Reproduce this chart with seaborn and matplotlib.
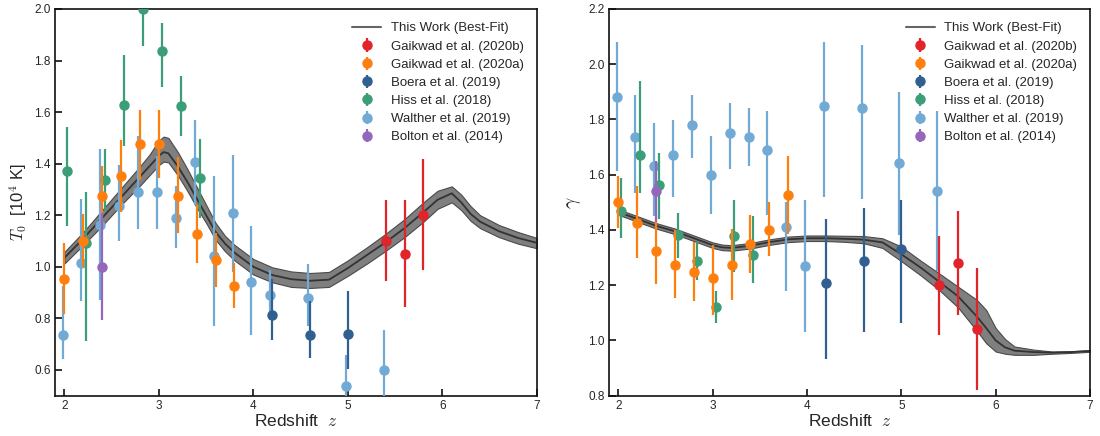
import numpy as np
import pandas as pd
import matplotlib
matplotlib.use("Agg")
import matplotlib.pyplot as plt
import seaborn as sns

# ---------------- data ----------------
# Best-fit T0 curve (10^4 K)
fit_z_T = [2.0, 2.2, 2.4, 2.6, 2.8, 2.9, 3.0, 3.05, 3.1, 3.2, 3.3, 3.4, 3.5, 3.6, 3.7, 3.8,
           4.0, 4.2, 4.4, 4.6, 4.8, 5.0, 5.2, 5.4, 5.6, 5.8, 5.95, 6.1, 6.2, 6.3, 6.4, 6.6, 6.8, 7.0]
fit_T = [1.035, 1.11, 1.19, 1.27, 1.35, 1.39, 1.43, 1.445, 1.44, 1.39, 1.33, 1.265, 1.2, 1.135, 1.09, 1.055,
         1.0, 0.968, 0.952, 0.946, 0.95, 0.995, 1.045, 1.095, 1.15, 1.212, 1.26, 1.285, 1.25, 1.205, 1.175, 1.138, 1.112, 1.093]
fit_T_lo = [1.013, 1.085, 1.16, 1.24, 1.315, 1.355, 1.395, 1.408, 1.405, 1.355, 1.295, 1.23, 1.17, 1.105, 1.06, 1.025,
            0.97, 0.94, 0.922, 0.918, 0.922, 0.965, 1.012, 1.062, 1.115, 1.175, 1.225, 1.25, 1.22, 1.178, 1.15, 1.115, 1.09, 1.072]
fit_T_hi = [1.058, 1.135, 1.22, 1.305, 1.39, 1.435, 1.49, 1.505, 1.50, 1.445, 1.38, 1.31, 1.24, 1.17, 1.12, 1.085,
            1.03, 0.998, 0.982, 0.976, 0.98, 1.025, 1.075, 1.128, 1.185, 1.25, 1.295, 1.312, 1.28, 1.235, 1.2, 1.162, 1.135, 1.112]

# Best-fit gamma curve
fit_z_g = [2.0, 2.2, 2.4, 2.6, 2.8, 3.0, 3.1, 3.2, 3.4, 3.6, 3.8, 4.0, 4.2, 4.4, 4.6, 4.8, 5.0, 5.2,
           5.4, 5.6, 5.8, 5.9, 6.0, 6.1, 6.2, 6.4, 6.6, 6.8, 7.0]
fit_g = [1.465, 1.44, 1.415, 1.395, 1.37, 1.345, 1.337, 1.335, 1.343, 1.356, 1.366, 1.37, 1.37, 1.368, 1.365, 1.355, 1.312, 1.265,
         1.213, 1.16, 1.087, 1.045, 1.0, 0.975, 0.963, 0.958, 0.956, 0.958, 0.962]
fit_g_lo = [1.455, 1.43, 1.405, 1.385, 1.36, 1.335, 1.327, 1.325, 1.333, 1.346, 1.356, 1.36, 1.36, 1.357, 1.352, 1.335, 1.287, 1.237,
            1.183, 1.12, 1.035, 0.99, 0.96, 0.952, 0.948, 0.948, 0.952, 0.955, 0.959]
fit_g_hi = [1.475, 1.45, 1.425, 1.405, 1.38, 1.355, 1.347, 1.345, 1.353, 1.366, 1.376, 1.38, 1.38, 1.379, 1.378, 1.37, 1.34, 1.29,
            1.243, 1.195, 1.147, 1.11, 1.045, 1.005, 0.978, 0.967, 0.96, 0.961, 0.965]

# --- T0 measurements: z, value, lower bound, upper bound ---
g20b_z = [5.4, 5.6, 5.8]
g20b_T = [1.10, 1.05, 1.20]
g20b_T_lo = [0.944, 0.843, 0.986]
g20b_T_hi = [1.261, 1.261, 1.418]

g20a_z = [2.0, 2.2, 2.4, 2.6, 2.8, 3.0, 3.2, 3.4, 3.6, 3.8]
g20a_T = [0.951, 1.102, 1.276, 1.351, 1.477, 1.477, 1.276, 1.128, 1.027, 0.927]
g20a_T_lo = [0.815, 1.00, 1.16, 1.213, 1.338, 1.345, 1.132, 1.015, 0.923, 0.841]
g20a_T_hi = [1.093, 1.203, 1.39, 1.49, 1.61, 1.61, 1.425, 1.241, 1.132, 1.013]

boera_z = [4.2, 4.6, 5.0]
boera_T = [0.814, 0.734, 0.739]
boera_T_lo = [0.718, 0.645, 0.602]
boera_T_hi = [0.951, 0.867, 0.905]

hiss_z = [2.03, 2.23, 2.43, 2.63, 2.83, 3.03, 3.23, 3.43]
hiss_T = [1.373, 1.093, 1.335, 1.629, 2.0, 1.838, 1.625, 1.345]
hiss_T_lo = [1.157, 0.712, 1.215, 1.467, 1.855, 1.698, 1.506, 1.19]
hiss_T_hi = [1.543, 1.289, 1.455, 1.823, 2.15, 1.946, 1.741, 1.496]

walt_z = [1.98, 2.18, 2.38, 2.58, 2.78, 2.98, 3.18, 3.38, 3.58, 3.78, 3.98, 4.18, 4.58, 4.98, 5.38]
walt_T = [0.734, 1.016, 1.164, 1.235, 1.289, 1.289, 1.188, 1.405, 1.041, 1.209, 0.942, 0.891, 0.880, 0.537, 0.601]
walt_T_lo = [0.643, 0.867, 0.873, 1.099, 1.145, 1.147, 1.074, 1.24, 0.772, 0.98, 0.734, 0.795, 0.772, 0.42, 0.45]
walt_T_hi = [0.927, 1.264, 1.455, 1.393, 1.506, 1.43, 1.312, 1.571, 1.354, 1.435, 1.16, 0.987, 1.009, 0.656, 0.753]

bolt_z = [2.4]
bolt_T = [1.0]
bolt_T_lo = [0.793]
bolt_T_hi = [1.21]

# --- gamma measurements ---
g20b_g = [1.20, 1.28, 1.04]
g20b_g_lo = [1.02, 1.092, 0.82]
g20b_g_hi = [1.379, 1.47, 1.262]

g20a_g = [1.501, 1.425, 1.325, 1.274, 1.249, 1.225, 1.274, 1.350, 1.400, 1.525]
g20a_g_lo = [1.407, 1.298, 1.205, 1.153, 1.143, 1.092, 1.147, 1.243, 1.304, 1.385]
g20a_g_hi = [1.596, 1.560, 1.443, 1.40, 1.358, 1.345, 1.405, 1.455, 1.503, 1.666]

boera_g = [1.209, 1.289, 1.330]
boera_g_lo = [0.932, 1.032, 1.062]
boera_g_hi = [1.440, 1.479, 1.509]

hiss_g = [1.470, 1.670, 1.561, 1.380, 1.289, 1.120, 1.379, 1.310]
hiss_g_lo = [1.370, 1.533, 1.44, 1.30, 1.219, 1.062, 1.249, 1.209]
hiss_g_hi = [1.588, 1.940, 1.678, 1.461, 1.358, 1.18, 1.509, 1.451]

walt_g = [1.880, 1.738, 1.630, 1.670, 1.781, 1.600, 1.751, 1.738, 1.690, 1.410, 1.270, 1.850, 1.841, 1.642, 1.542]
walt_g_lo = [1.612, 1.533, 1.45, 1.521, 1.662, 1.457, 1.620, 1.63, 1.455, 1.180, 1.032, 1.521, 1.512, 1.38, 1.25]
walt_g_hi = [2.079, 1.889, 1.789, 1.799, 1.889, 1.741, 1.859, 1.841, 1.832, 1.503, 1.509, 2.079, 2.071, 1.901, 1.829]

bolt_g = [1.54]
bolt_g_lo = [1.43]
bolt_g_hi = [1.65]

labels = ["Gaikwad et al. (2020b)", "Gaikwad et al. (2020a)", "Boera et al. (2019)",
          "Hiss et al. (2018)", "Walther et al. (2019)", "Bolton et al. (2014)"]
colors = ["#e0242a", "#ff7f0e", "#305f90", "#3c9e79", "#72aad6", "#9467bd"]
zorders = [7, 6, 5, 4, 3, 8]

x_ticks = [2, 3, 4, 5, 6, 7]
T_ticks = [0.6, 0.8, 1.0, 1.2, 1.4, 1.6, 1.8, 2.0]
g_ticks = [0.8, 1.0, 1.2, 1.4, 1.6, 1.8, 2.0, 2.2]

# ---------------- style ----------------
sns.set_theme(style="ticks")
plt.rcParams["font.family"] = ["Liberation Sans", "DejaVu Sans"]
plt.rcParams["mathtext.fontset"] = "cm"
plt.rcParams["axes.linewidth"] = 1.2

fig = plt.figure(figsize=(11, 4.36), dpi=100)
axL = fig.add_axes([0.050, 0.0924, 0.438, 0.887])
axR = fig.add_axes([0.5536, 0.0924, 0.4373, 0.887])


def draw_panel(ax, fz, fc, flo, fhi, series, ylim, yticks, ylabel, ylabel_size):
    ax.fill_between(fz, flo, fhi, facecolor="#7f7f7f", edgecolor="#4a4a4a", lw=0.8, zorder=1)
    sns.lineplot(x=fz, y=fc, ax=ax, color="#333333", lw=1.3, zorder=2, legend=False)
    handles = []
    h_line, = ax.plot([], [], color="#666666", lw=1.5, label="This Work (Best-Fit)")
    handles.append(h_line)
    for (z, v, lo, hi), lab, col, zo in zip(series, labels, colors, zorders):
        v = np.array(v); lo = np.array(lo); hi = np.array(hi)
        yerr = np.vstack([v - lo, hi - v])
        h = ax.errorbar(z, v, yerr=yerr, fmt="o", color=col, ms=6.5, elinewidth=1.6,
                        capsize=0, label=lab, zorder=zo)
        handles.append(h)
    ax.set_xlim(1.9, 7.0)
    ax.set_ylim(*ylim)
    ax.set_xticks(x_ticks)
    ax.set_xticklabels([str(t) for t in x_ticks])
    ax.set_yticks(yticks)
    ax.set_yticklabels(["%.1f" % t for t in yticks])
    ax.tick_params(axis="both", which="major", direction="in", length=5, width=1.2,
                   color="#111111", labelsize=8.5, pad=3, top=False, right=False)
    ax.set_xlabel("Redshift  $z$", fontsize=12.5, labelpad=1)
    ax.set_ylabel(ylabel, fontsize=ylabel_size, labelpad=4)
    for s in ax.spines.values():
        s.set_visible(True)
        s.set_linewidth(1.2)
        s.set_color("#111111")
    ax.legend(handles=handles, loc="upper right", frameon=False, fontsize=9.5,
              handlelength=2.2, handletextpad=0.7, labelspacing=0.45, borderaxespad=0.6)


series_T = [(g20b_z, g20b_T, g20b_T_lo, g20b_T_hi),
            (g20a_z, g20a_T, g20a_T_lo, g20a_T_hi),
            (boera_z, boera_T, boera_T_lo, boera_T_hi),
            (hiss_z, hiss_T, hiss_T_lo, hiss_T_hi),
            (walt_z, walt_T, walt_T_lo, walt_T_hi),
            (bolt_z, bolt_T, bolt_T_lo, bolt_T_hi)]
series_g = [(g20b_z, g20b_g, g20b_g_lo, g20b_g_hi),
            (g20a_z, g20a_g, g20a_g_lo, g20a_g_hi),
            (boera_z, boera_g, boera_g_lo, boera_g_hi),
            (hiss_z, hiss_g, hiss_g_lo, hiss_g_hi),
            (walt_z, walt_g, walt_g_lo, walt_g_hi),
            (bolt_z, bolt_g, bolt_g_lo, bolt_g_hi)]

draw_panel(axL, fit_z_T, fit_T, fit_T_lo, fit_T_hi, series_T, (0.5, 2.0), T_ticks,
           "$T_0$  [10$^4$ K]", 12)
draw_panel(axR, fit_z_g, fit_g, fit_g_lo, fit_g_hi, series_g, (0.8, 2.2), g_ticks,
           "$\\gamma$", 14)

fig.savefig("out.png", dpi=100)
